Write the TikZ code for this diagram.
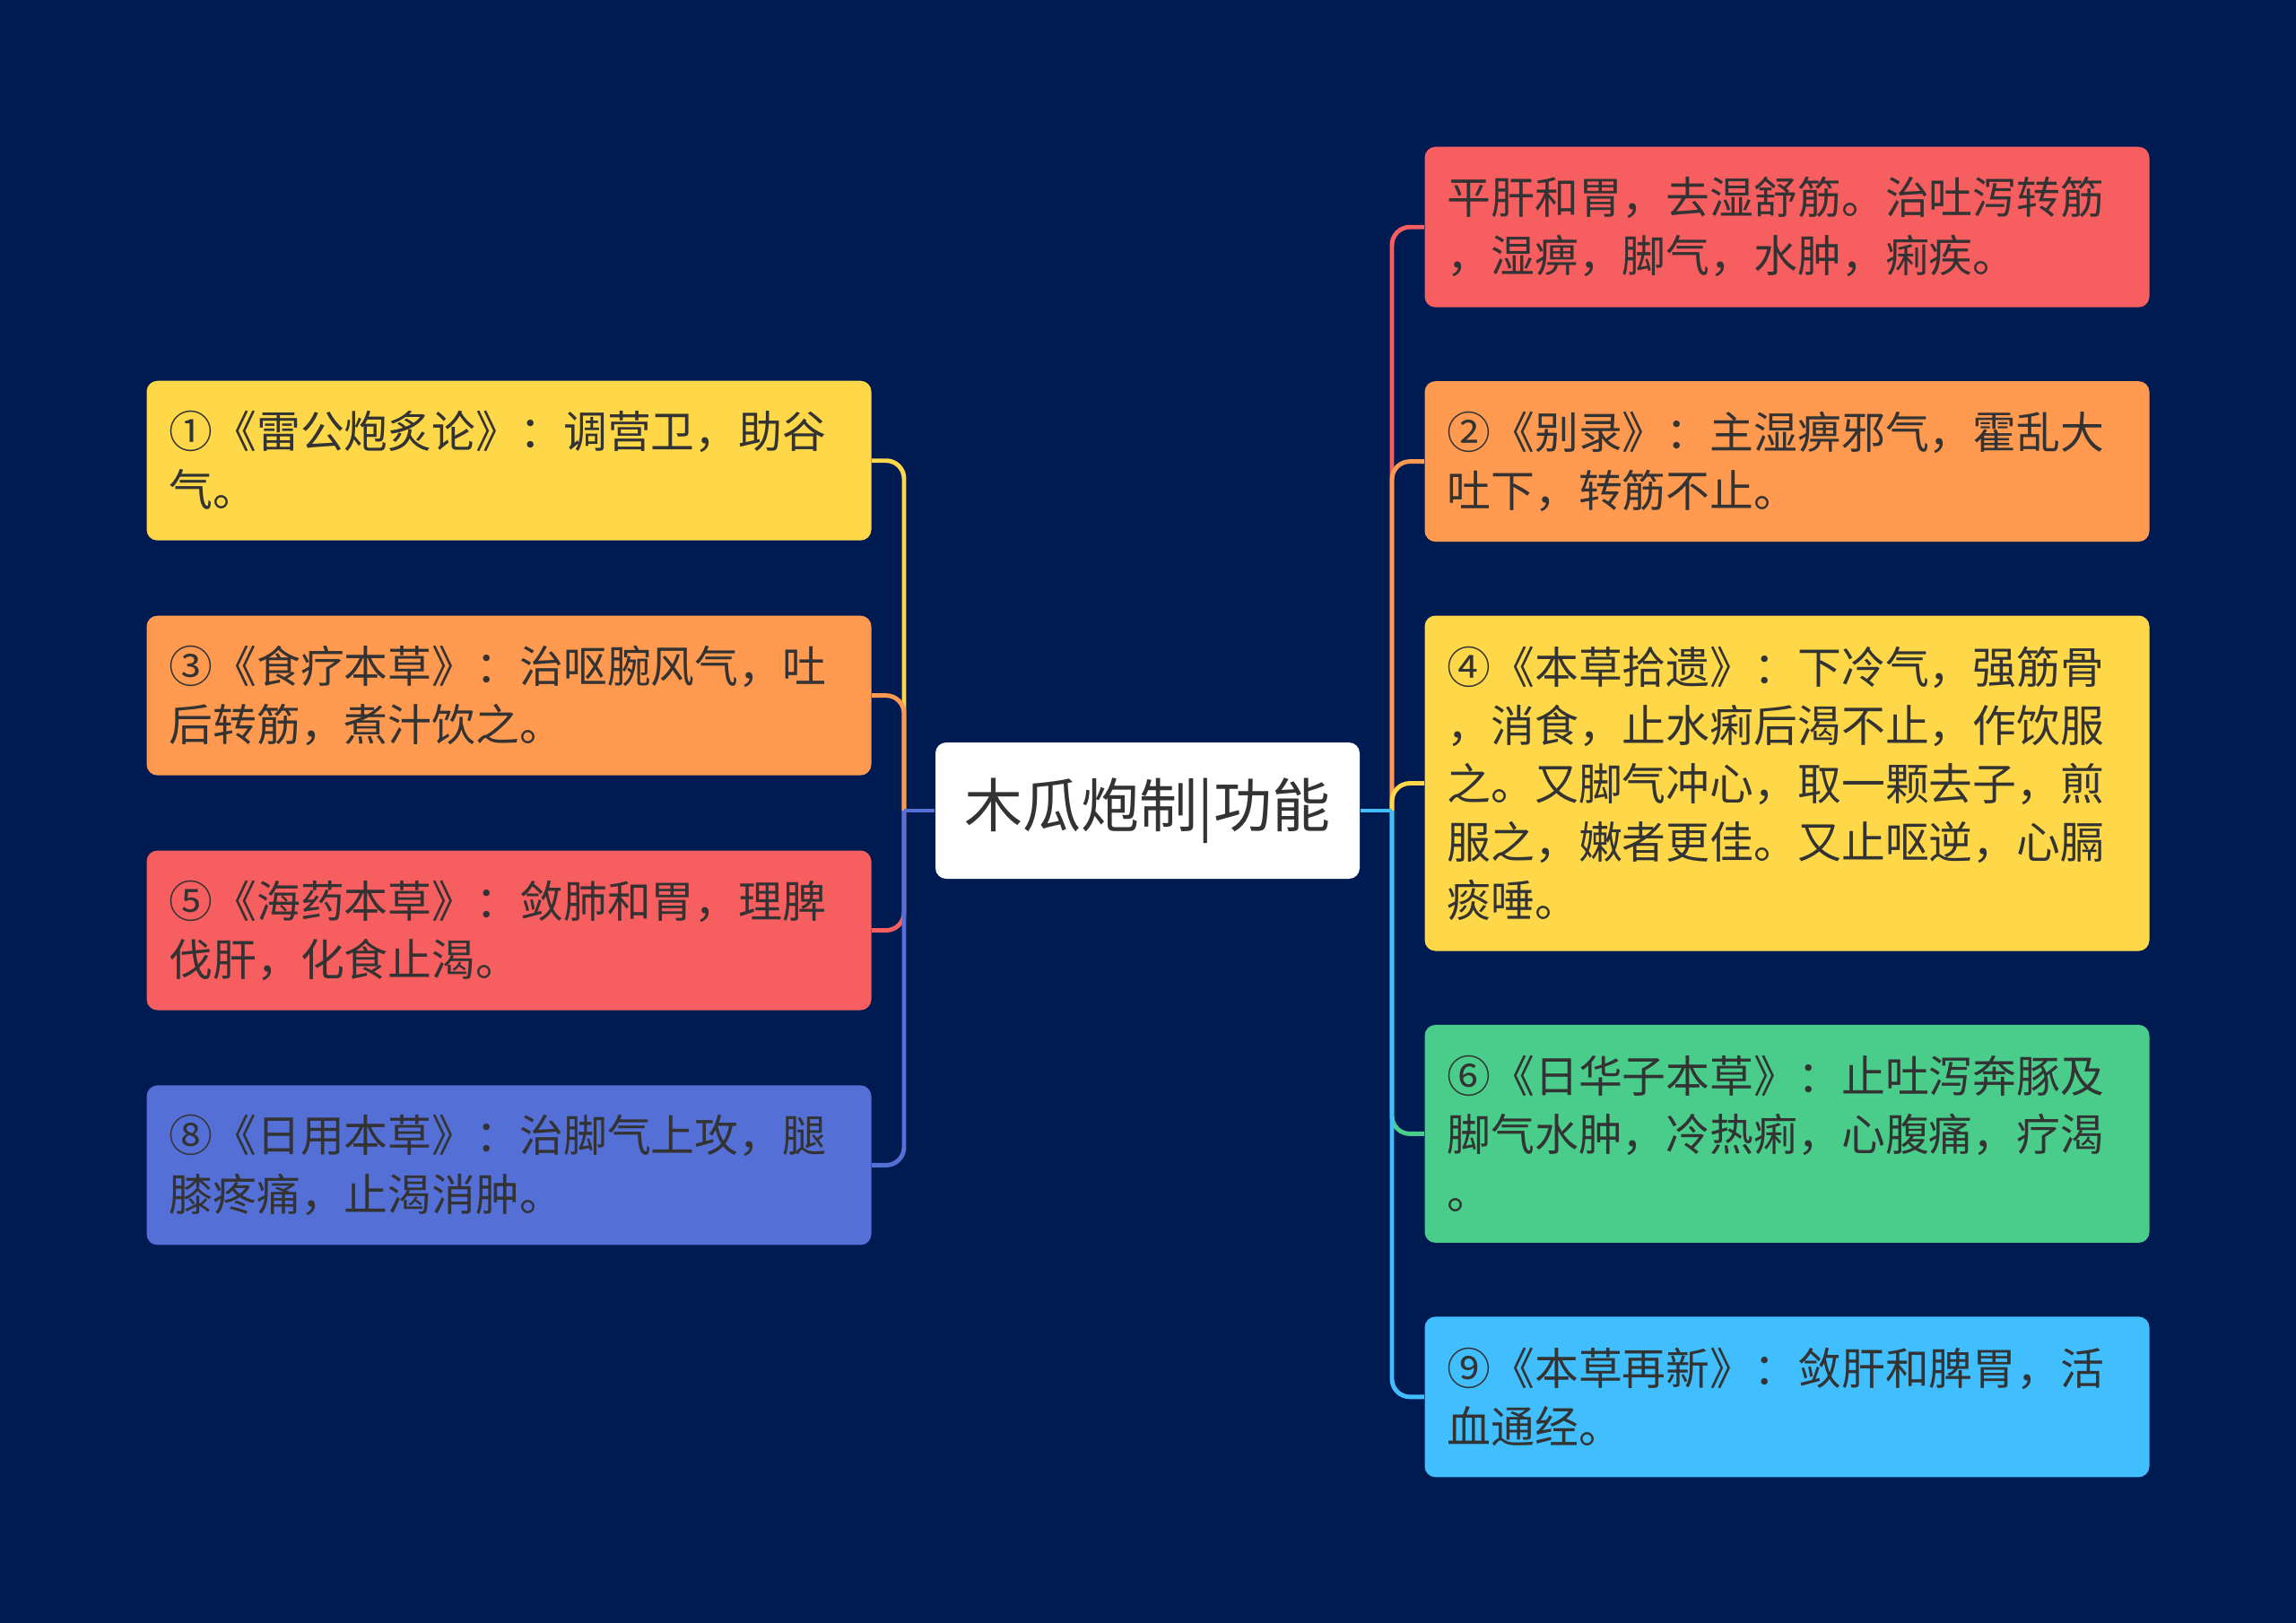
\documentclass[tikz,border=0pt]{standalone}
\usepackage{fontspec}
\newfontfamily\cjk{Noto Sans CJK SC}
\usepackage{tikz}
\usetikzlibrary{positioning}
\definecolor{bgnavy}{HTML}{001A52}
\definecolor{txtgray}{HTML}{333333}
\definecolor{cRed}{HTML}{F65E5F}
\definecolor{cOrange}{HTML}{FF9A50}
\definecolor{cYellow}{HTML}{FFD84A}
\definecolor{cGreen}{HTML}{4ACD8B}
\definecolor{cBlue}{HTML}{5470D6}
\definecolor{cCyan}{HTML}{40BEFE}

\begin{document}
\begin{tikzpicture}[
    node distance=8.25mm,
    every node/.style={font=\cjk\fontsize{13.9pt}{18.5pt}\selectfont, text=txtgray},
    root/.style={fill=white, rounded corners=1.2mm, minimum width=47.3mm, minimum height=15.2mm, inner sep=0mm, font=\cjk\fontsize{18.5pt}{22pt}\selectfont},
    leaf/.style={rounded corners=1.2mm, text width=75.8mm, inner xsep=2.5mm, inner ysep=0mm, minimum height=17.8mm, align=left},
    conn/.style={line width=1.4pt, rounded corners=2mm}
  ]
  \useasboundingbox (0,0) rectangle (25.6,-18.09);
  \fill[bgnavy] (-0.2,0.2) rectangle (25.8,-18.3);

  % Center topic
  \node[root] (root) at (12.795,-9.04) {木瓜炮制|功能};
  \coordinate (jL) at (10.08,-9.04);
  \coordinate (jR) at (15.52,-9.04);

  % Left branch
  \node[leaf, fill=cYellow, anchor=north] (b1) at (5.675,-4.24) {①《雷公炮炙论》：调营卫，助谷\\气。};
  \node[leaf, fill=cOrange, below=of b1] (b3) {③《食疗本草》：治呕腕风气，吐\\后转筋，煮汁饮之。};
  \node[leaf, fill=cRed, below=of b3] (b5) {⑤《海药本草》：敛肺和胃，理脾\\伐肝，化食止渴。};
  \node[leaf, fill=cBlue, below=of b5] (b8) {⑧《日用本草》：治脚气上攻，腿\\膝疼痛，止渴消肿。};

  \draw[conn, draw=cYellow] (jL) |- (b1.east);
  \draw[conn, draw=cOrange] (jL) |- (b3.east);
  \draw[conn, draw=cRed] (jL) |- (b5.east);
  \draw[conn, draw=cBlue] (jL) |- (b8.east);
  \draw[conn, draw=cBlue] (root.west) -- (jL);

  % Right branch
  \node[leaf, fill=cRed, minimum height=17.9mm, anchor=north] (r1) at (19.925,-1.63) {平肝和胃，去湿舒筋。治吐泻转筋\\，湿痹，脚气，水肿，痢疾。};
  \node[leaf, fill=cOrange, minimum height=17.9mm, below=8.1mm of r1] (r2) {②《别录》：主湿痹邪气，霍乱大\\吐下，转筋不止。};
  \node[leaf, fill=cYellow, minimum height=37.4mm, below=8.1mm of r2] (r4) {④《本草拾遗》：下冷气，强筋骨\\，消食，止水痢后渴不止，作饮服\\之。又脚气冲心，取一颗去子，煎\\服之，嫩者更佳。又止呕逆，心膈\\痰唾。};
  \node[leaf, fill=cGreen, minimum height=24.3mm, below=8.1mm of r4] (r6) {⑥《日华子本草》：止吐泻奔豚及\\脚气水肿，冷热痢，心腹痛，疗渴\\。};
  \node[leaf, fill=cCyan, minimum height=17.9mm, below=8.1mm of r6] (r9) {⑨《本草再新》：敛肝和脾胃，活\\血通经。};

  \draw[conn, draw=cRed] (jR) |- (r1.west);
  \draw[conn, draw=cOrange] (jR) |- (r2.west);
  \draw[conn, draw=cYellow] (jR) |- (r4.west);
  \draw[conn, draw=cGreen] (jR) |- (r6.west);
  \draw[conn, draw=cCyan] (jR) |- (r9.west);
  \draw[conn, draw=cCyan] (root.east) -- (jR);
\end{tikzpicture}
\end{document}
